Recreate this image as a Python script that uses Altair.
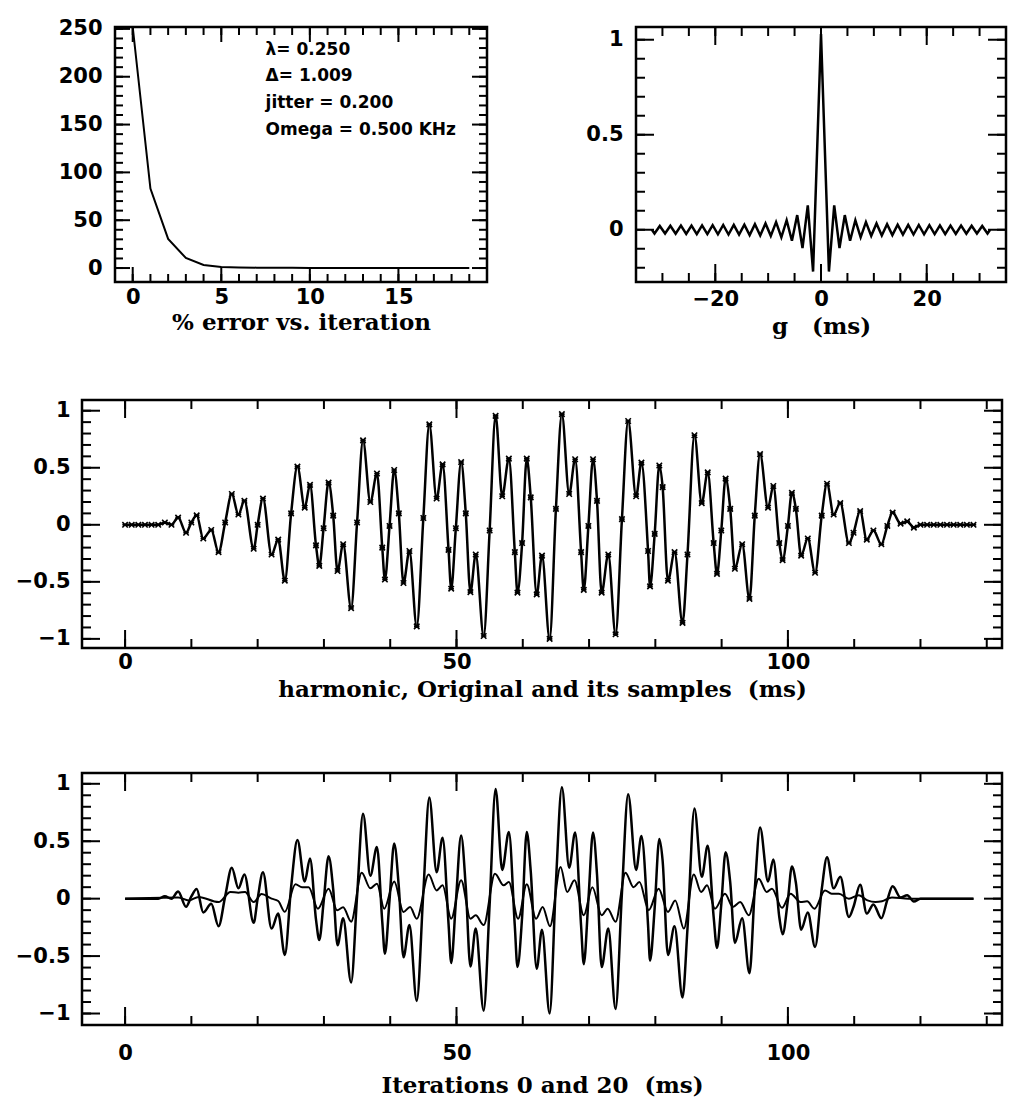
import altair as alt
import pandas as pd

# ---------------- data ----------------
# top-left: % error vs iteration
err_iter = list(range(20))
err_pct = [252, 83, 30.5, 10.5, 3.2, 1.0, 0.6, 0.4, 0.3, 0.2,
           0.15, 0.1, 0.1, 0.05, 0.05, 0.0, 0.0, 0.0, 0.0, 0.0]

param_lines = ["λ= 0.250", "Δ= 1.009", "jitter = 0.200", "Omega = 0.500 KHz"]
param_iter = [7.5, 7.5, 7.5, 7.5]
param_pct = [228, 201, 173, 144]

# top-right: kernel g (ms, value) at its extrema
g_points = [
    (-32, 0.0), (-31.5, -0.02), (-30.5, 0.02), (-29.5, -0.02), (-28.5, 0.021),
    (-27.5, -0.021), (-26.5, 0.022), (-25.5, -0.022), (-24.5, 0.022), (-23.5, -0.023),
    (-22.5, 0.023), (-21.5, -0.023), (-20.5, 0.024), (-19.5, -0.024), (-18.5, 0.025),
    (-17.5, -0.025), (-16.5, 0.026), (-15.5, -0.026), (-14.5, 0.027), (-13.5, -0.028),
    (-12.5, 0.029), (-11.5, -0.03), (-10.5, 0.033), (-9.5, -0.032), (-8.5, 0.04),
    (-7.5, -0.04), (-6.5, 0.05), (-5.5, -0.058), (-4.5, 0.077), (-3.5, -0.096),
    (-2.5, 0.128), (-1.5, -0.22), (0, 1.03),
    (1.5, -0.22), (2.5, 0.128), (3.5, -0.096), (4.5, 0.077), (5.5, -0.058),
    (6.5, 0.05), (7.5, -0.04), (8.5, 0.04), (9.5, -0.032), (10.5, 0.033),
    (11.5, -0.03), (12.5, 0.029), (13.5, -0.028), (14.5, 0.027), (15.5, -0.026),
    (16.5, 0.026), (17.5, -0.025), (18.5, 0.025), (19.5, -0.024), (20.5, 0.024),
    (21.5, -0.023), (22.5, 0.023), (23.5, -0.023), (24.5, 0.022), (25.5, -0.022),
    (26.5, 0.022), (27.5, -0.021), (28.5, 0.021), (29.5, -0.02), (30.5, 0.02),
    (31.5, -0.02), (32, 0.0),
]

# middle: harmonic original and its samples (ms, value)
orig_samples = [
    (0, 0.0), (1, 0.0), (2, 0.0), (3, 0.0), (4, 0.0), (5, 0.0), (6, 0.02), (7, 0.0),
    (8.0, 0.063), (9.2, -0.07), (10.0, 0.02), (10.8, 0.083), (11.8, -0.12), (13.0, -0.045),
    (14.1, -0.24), (15.1, 0.02), (16.1, 0.27), (17.1, 0.09), (18.0, 0.21), (19.4, -0.21),
    (20.0, 0.0), (20.8, 0.23), (22.1, -0.26), (23.1, -0.13), (24.1, -0.49), (25.05, 0.1),
    (26.0, 0.51), (27.1, 0.15), (27.9, 0.35), (28.8, -0.18), (29.3, -0.36), (29.95, -0.03),
    (30.7, 0.37), (31.4, 0.08), (32.05, -0.405), (32.9, -0.17), (34.1, -0.73), (35.0, 0.02),
    (35.9, 0.74), (37.0, 0.2), (38.0, 0.45), (38.8, -0.2), (39.2, -0.48), (39.9, -0.01),
    (40.6, 0.48), (41.3, 0.1), (42.0, -0.51), (42.9, -0.23), (44.0, -0.89), (45.0, 0.06),
    (45.9, 0.88), (47.0, 0.23), (47.9, 0.53), (48.8, -0.22), (49.2, -0.56), (49.9, -0.03),
    (50.7, 0.55), (51.4, 0.1), (52.1, -0.59), (52.9, -0.26), (54.1, -0.975), (55.0, -0.05),
    (55.9, 0.955), (56.9, 0.25), (57.9, 0.58), (58.8, -0.24), (59.2, -0.595), (59.9, -0.16),
    (60.6, 0.58), (61.2, 0.24), (62.1, -0.61), (62.9, -0.27), (64.05, -1.0), (65.0, 0.14),
    (65.9, 0.97), (67.0, 0.27), (67.9, 0.575), (68.8, -0.24), (69.2, -0.57), (69.9, -0.01),
    (70.6, 0.575), (71.2, 0.21), (71.9, -0.595), (72.9, -0.26), (74.0, -0.96), (74.96, 0.05),
    (75.9, 0.91), (77.1, 0.25), (77.9, 0.545), (78.9, -0.23), (79.2, -0.54), (79.9, -0.08),
    (80.6, 0.52), (81.1, 0.33), (81.9, -0.49), (82.9, -0.24), (84.1, -0.86), (84.85, -0.26),
    (85.9, 0.785), (87.0, 0.19), (87.9, 0.46), (88.8, -0.16), (89.3, -0.43), (89.95, -0.05),
    (90.6, 0.405), (91.3, 0.14), (92.0, -0.385), (93.1, -0.17), (94.2, -0.65), (95.0, 0.08),
    (95.8, 0.62), (97.0, 0.15), (97.8, 0.34), (98.7, -0.16), (99.2, -0.31), (100.0, -0.01),
    (100.6, 0.28), (101.2, 0.14), (102.0, -0.27), (103.0, -0.12), (104.1, -0.42), (105.1, 0.08),
    (105.9, 0.36), (106.9, 0.09), (107.9, 0.19), (109.2, -0.16), (109.9, -0.07), (110.9, 0.12),
    (111.9, -0.13), (112.9, -0.05), (114.1, -0.17), (115.0, -0.01), (115.8, 0.107), (117.0, 0.01),
    (118.0, 0.03), (119.0, -0.025), (120, 0.0), (121, 0.0), (122, 0.0), (123, 0.0), (124, 0.0),
    (125, 0.0), (126, 0.0), (127, 0.0), (128, 0.0),
]

# bottom: iteration 0 (small) and iteration 20 (reads the same as the original)
iter0_curve = [
    (0, 0.0), (8.0, 0.01), (9.6, -0.015), (11.1, 0.015), (14.1, -0.03), (15.9, 0.058),
    (17.1, 0.052), (18.1, 0.058), (19.4, -0.03), (20.6, 0.04), (22.1, 0.0), (23.1, -0.02),
    (24.1, -0.115), (25.7, 0.125), (26.7, 0.1), (27.7, 0.1), (29.1, -0.087), (30.7, 0.087),
    (32.0, -0.1), (32.9, -0.075), (34.1, -0.2), (35.7, 0.226), (37.0, 0.09), (38.0, 0.13),
    (39.1, -0.087), (40.6, 0.15), (42.0, -0.116), (43.0, -0.072), (44.0, -0.174), (45.8, 0.21),
    (47.0, 0.072), (47.9, 0.116), (49.2, -0.174), (50.7, 0.16), (52.1, -0.174), (52.9, -0.145),
    (54.1, -0.23), (55.8, 0.217), (57.1, 0.116), (57.9, 0.145), (59.3, -0.174), (60.6, 0.125),
    (62.0, -0.174), (63.0, -0.072), (64.1, -0.24), (65.7, 0.275), (66.7, 0.058), (67.8, 0.16),
    (69.2, -0.145), (70.5, 0.1), (71.9, -0.145), (72.8, -0.087), (74.0, -0.2), (75.5, 0.226),
    (76.7, 0.1), (77.6, 0.145), (79.0, -0.1), (80.5, 0.087), (81.9, -0.116), (83.0, -0.015),
    (84.3, -0.26), (85.8, 0.21), (86.9, 0.058), (87.8, 0.116), (89.0, -0.087), (90.5, 0.043),
    (91.7, -0.072), (92.8, -0.03), (94.1, -0.145), (95.6, 0.174), (96.8, 0.058), (97.6, 0.087),
    (99.1, -0.08), (100.4, 0.043), (101.9, -0.03), (102.9, -0.023), (104.0, -0.087), (105.6, 0.072),
    (106.6, 0.043), (107.7, 0.043), (109.2, 0.0), (110.7, 0.03), (112.0, -0.015), (113.2, -0.03),
    (114.2, -0.023), (115.7, 0.01), (118.2, 0.0), (128, 0.0),
]
iter20_curve = list(orig_samples)

# axis tick values
tl_x_labels = [0, 5, 10, 15]
tl_x_minor = list(range(-1, 21))
tl_x_major = [0, 5, 10, 15, 20]
tl_y_labels = [0, 50, 100, 150, 200, 250]
tl_y_minor = list(range(0, 251, 10))
tr_x_labels = [-20, 0, 20]
tr_x_minor = list(range(-35, 36, 5))
tr_x_major = [-20, 0, 20]
tr_y_labels = [0, 0.5, 1]
tr_y_minor = [round(-0.2 + 0.1 * i, 1) for i in range(13)]
h_x_labels = [0, 50, 100]
h_x_minor = list(range(0, 131, 10))
h_y_labels = [-1, -0.5, 0, 0.5, 1]
h_y_minor = [round(-1 + 0.1 * i, 1) for i in range(21)]

# ---------------- styling ----------------
LABEL_FONT = "DejaVu Sans"
TITLE_FONT = "DejaVu Serif"
NBSP = "\u00a0"


def label_x(title, values, lp, tp):
    return alt.Axis(orient="bottom", title=title, values=values, format="~f", ticks=False,
                    domain=False, grid=False, labelFlush=False, labelOverlap=False,
                    labelPadding=lp, titlePadding=tp)


def label_y(values, lp, min_extent):
    return alt.Axis(orient="left", title=None, values=values, format="~f", ticks=False,
                    domain=False, grid=False, labelOverlap=False, labelPadding=lp,
                    minExtent=min_extent)


def tick_marks(xs, ys, xdom, ydom, W, H, x_minor, x_major, y_minor, y_major, minor_len, major_len):
    """Inward frame ticks on all four sides; both ends go through the panel scales."""
    x0, x1 = xdom
    y0, y1 = ydom
    dx = (x1 - x0) / W      # data units per pixel
    dy = (y1 - y0) / H
    out = []
    for vals, L in ((x_minor, minor_len), (x_major, major_len)):
        df = pd.DataFrame({
            "v": vals + vals,
            "a": [y1] * len(vals) + [y0] * len(vals),
            "b": [y1 - L * dy] * len(vals) + [y0 + L * dy] * len(vals),
        })
        out.append(alt.Chart(df).mark_rule(color="black", strokeWidth=2).encode(
            x=alt.X("v:Q", scale=xs, axis=None),
            y=alt.Y("a:Q", scale=ys, axis=None),
            y2="b:Q",
        ))
    for vals, L in ((y_minor, minor_len), (y_major, major_len)):
        df = pd.DataFrame({
            "v": vals + vals,
            "a": [x0] * len(vals) + [x1] * len(vals),
            "b": [x0 + L * dx] * len(vals) + [x1 - L * dx] * len(vals),
        })
        out.append(alt.Chart(df).mark_rule(color="black", strokeWidth=2).encode(
            y=alt.Y("v:Q", scale=ys, axis=None),
            x=alt.X("a:Q", scale=xs, axis=None),
            x2="b:Q",
        ))
    return out


def panel(layers, W, H):
    return alt.layer(*layers).resolve_axis(x="independent", y="independent").properties(width=W, height=H)


# ---------------- top-left panel ----------------
TLW, TLH = 372, 255
tl_xdom, tl_ydom = [-1, 20], [-14.6, 252]
tl_xs = alt.Scale(domain=tl_xdom, nice=False, zero=False)
tl_ys = alt.Scale(domain=tl_ydom, nice=False, zero=False)
err_df = pd.DataFrame({"iteration": err_iter, "pct": err_pct})
tl_line = alt.Chart(err_df).mark_line(color="black", strokeWidth=2).encode(
    x=alt.X("iteration:Q", scale=tl_xs, axis=label_x("% error vs. iteration", tl_x_labels, 4.5, 4)),
    y=alt.Y("pct:Q", scale=tl_ys, axis=label_y(tl_y_labels, 13, 57)),
)
param_df = pd.DataFrame({"text": param_lines, "iteration": param_iter, "pct": param_pct})
tl_text = alt.Chart(param_df).mark_text(align="left", baseline="middle", font=LABEL_FONT,
                                        fontWeight="bold", fontSize=17, color="black").encode(
    x=alt.X("iteration:Q", scale=tl_xs, axis=None),
    y=alt.Y("pct:Q", scale=tl_ys, axis=None),
    text="text:N",
)
tl = panel([tl_line, tl_text] +
           tick_marks(tl_xs, tl_ys, tl_xdom, tl_ydom, TLW, TLH,
                      tl_x_minor, tl_x_major, tl_y_minor, tl_y_labels, 8, 15),
           TLW, TLH)

# ---------------- top-right panel ----------------
TRW, TRH = 370, 255
tr_xdom, tr_ydom = [-35, 35], [-0.275, 1.067]
tr_xs = alt.Scale(domain=tr_xdom, nice=False, zero=False)
tr_ys = alt.Scale(domain=tr_ydom, nice=False, zero=False)
g_df = pd.DataFrame(g_points, columns=["ms", "g"])
tr_line = alt.Chart(g_df).mark_line(color="black", strokeWidth=2.5).encode(
    x=alt.X("ms:Q", scale=tr_xs, axis=label_x(f"g{NBSP}{NBSP}{NBSP}(ms)", tr_x_labels, 6, 6)),
    y=alt.Y("g:Q", scale=tr_ys, axis=label_y(tr_y_labels, 13, 50)),
)
tr = panel([tr_line] +
           tick_marks(tr_xs, tr_ys, tr_xdom, tr_ydom, TRW, TRH,
                      tr_x_minor, tr_x_major, tr_y_minor, tr_y_labels, 9, 18),
           TRW, TRH)

# row 1: an invisible 1px spacer lets the top-left panel sit further right than the wide panels
spacer = alt.Chart(pd.DataFrame({"s": [0]})).mark_point(opacity=0).encode(
    x=alt.X("s:Q", axis=None), y=alt.Y("s:Q", axis=None)
).properties(width=1, height=1, view=alt.ViewBackground(strokeOpacity=0))
top_row = alt.hconcat(spacer, alt.hconcat(tl, tr, spacing=94), spacing=32, bounds="flush")

# ---------------- middle panel ----------------
HW = 920
MH, BH = 248, 252
h_xdom = [-6.5, 132.3]
m_ydom = [-1.08, 1.094]
b_ydom = [-1.1, 1.094]
h_xs = alt.Scale(domain=h_xdom, nice=False, zero=False)
m_ys = alt.Scale(domain=m_ydom, nice=False, zero=False)
b_ys = alt.Scale(domain=b_ydom, nice=False, zero=False)
orig_df = pd.DataFrame(orig_samples, columns=["ms", "value"])
mid_line = alt.Chart(orig_df).mark_line(color="black", strokeWidth=2.5, interpolate="monotone").encode(
    x=alt.X("ms:Q", scale=h_xs,
            axis=label_x(f"harmonic, Original and its samples{NBSP}{NBSP}(ms)", h_x_labels, 3.5, 6)),
    y=alt.Y("value:Q", scale=m_ys, axis=label_y(h_y_labels, 12, 67)),
)
mid_pts = alt.Chart(orig_df).mark_point(
    shape="M-1,-1L1,1M1,-1L-1,1M-1,0L1,0", filled=False, color="black", strokeWidth=1.6,
    size=30, opacity=1,
).encode(
    x=alt.X("ms:Q", scale=h_xs, axis=None),
    y=alt.Y("value:Q", scale=m_ys, axis=None),
)
middle = panel([mid_line, mid_pts] +
               tick_marks(h_xs, m_ys, h_xdom, m_ydom, HW, MH,
                          h_x_minor, h_x_labels, h_y_minor, h_y_labels, 9, 18),
               HW, MH)

# ---------------- bottom panel ----------------
it20_df = pd.DataFrame(iter20_curve, columns=["ms", "value"])
it0_df = pd.DataFrame(iter0_curve, columns=["ms", "value"])
b_line20 = alt.Chart(it20_df).mark_line(color="black", strokeWidth=2.5, interpolate="monotone").encode(
    x=alt.X("ms:Q", scale=h_xs, axis=label_x(f"Iterations 0 and 20{NBSP}{NBSP}(ms)", h_x_labels, 17.5, 11)),
    y=alt.Y("value:Q", scale=b_ys, axis=label_y(h_y_labels, 12, 67)),
)
b_line0 = alt.Chart(it0_df).mark_line(color="black", strokeWidth=2, interpolate="monotone").encode(
    x=alt.X("ms:Q", scale=h_xs, axis=None),
    y=alt.Y("value:Q", scale=b_ys, axis=None),
)
bottom = panel([b_line20, b_line0] +
               tick_marks(h_xs, b_ys, h_xdom, b_ydom, HW, BH,
                          h_x_minor, h_x_labels, h_y_minor, h_y_labels, 9, 18),
               HW, BH)

lower = alt.vconcat(middle, bottom, spacing=67)
chart = alt.vconcat(top_row, lower, spacing=57).properties(
    padding={"left": 5, "top": 8, "right": 0, "bottom": 2},
    background="white",
).configure_view(
    stroke="black", strokeWidth=2.5
).configure_axis(
    labelFont=LABEL_FONT, labelFontWeight="bold", labelFontSize=21, labelColor="black",
    titleFont=TITLE_FONT, titleFontWeight="bold", titleFontSize=23, titleColor="black",
)

chart.save("out.html", embed_options={"renderer": "svg", "actions": False})
